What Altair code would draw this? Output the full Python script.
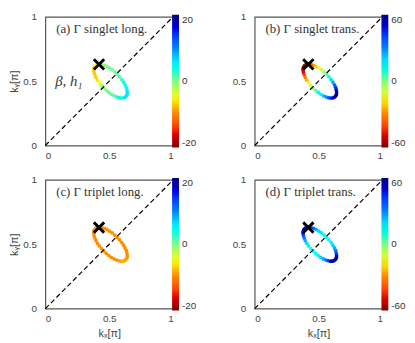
import altair as alt
import pandas as pd

# Fermi-surface-like contour points (k_x, k_y in units of pi)
kx = [0.630, 0.637, 0.641, 0.641, 0.638, 0.633, 0.624, 0.612, 0.598, 0.581,
      0.563, 0.544, 0.523, 0.503, 0.482, 0.463, 0.444, 0.427, 0.412, 0.400,
      0.390, 0.383, 0.379, 0.379, 0.382, 0.388, 0.396, 0.408, 0.422, 0.439,
      0.457, 0.477, 0.497, 0.517, 0.538, 0.558, 0.576, 0.593, 0.608, 0.620]
ky = [0.380, 0.390, 0.402, 0.417, 0.434, 0.453, 0.472, 0.493, 0.513, 0.534,
      0.553, 0.571, 0.588, 0.602, 0.614, 0.623, 0.628, 0.631, 0.631, 0.627,
      0.620, 0.610, 0.598, 0.583, 0.566, 0.548, 0.528, 0.507, 0.487, 0.466,
      0.447, 0.429, 0.413, 0.398, 0.386, 0.378, 0.372, 0.369, 0.369, 0.373]

# colour values along the contour for each panel
val_a = [6, 6, 6, 6, 5.5, 5, 4, 3, 2, 1.5,
         1, 1, 0.5, 0.5, 0, 0, -1, -2, -4, -5,
         -5, -6, -6, -7, -7, -7, -7, -6, -5, -2,
         0, 0.5, 1, 1, 1.5, 2, 3, 4, 5, 6]
val_b = [55, 58, 58, 55, 50, 42, 35, 26, 18, 10,
         4, -2, -8, -14, -20, -26, -34, -42, -50, -56,
         -58, -58, -56, -52, -46, -40, -32, -24, -16, -8,
         -2, 4, 10, 16, 22, 28, 35, 42, 48, 52]
val_c = [-8.5, -8.5, -9, -9.5, -9.5, -9.5, -9.5, -9.5, -9.5, -9.5,
         -9.5, -9.5, -9.5, -9.5, -9.5, -9.5, -9.5, -9.5, -9.5, -9.5,
         -9.5, -9.5, -9.5, -9.5, -9.5, -9.5, -9.5, -9.5, -9.5, -9.5,
         -9.5, -9.5, -9.5, -9.5, -9.5, -9.5, -9, -8.5, -8, -8.5]
val_d = [58, 57, 54, 48, 40, 32, 25, 20, 17, 15,
         15, 15, 17, 20, 25, 32, 40, 48, 54, 57,
         58, 57, 54, 48, 40, 32, 25, 20, 17, 15,
         15, 15, 17, 20, 25, 32, 40, 48, 54, 57]

marker_kx = [0.42]
marker_ky = [0.63]
diag_k = [0, 1]
tick_vals = [0, 0.5, 1]

labels = ["(a)  \u0393 singlet long.", "(b)  \u0393 singlet trans.",
          "(c)  \u0393 triplet long.", "(d)  \u0393 triplet trans."]
cbar_max = [20, 60, 20, 60]
jet = ["#800000", "#ff0000", "#ff8000", "#ffff00", "#80ff80",
       "#00ffff", "#0080ff", "#0000ff", "#000080"]

W, H = 130, 131


def panel(i, vals, ytitle, xtitle):
    m = cbar_max[i]
    stops = [-m + 2 * m * j / 8 for j in range(9)]
    df = pd.DataFrame({"kx": kx, "ky": ky, "v": vals})

    xa = dict(values=tick_vals, labelExpr="'' + datum.value", ticks=False,
              domain=False, grid=False, labelPadding=5, labelFontSize=10,
              labelColor="#444", labelFont="Liberation Sans",
              titleFont="Liberation Sans", titleFontSize=11,
              titleFontWeight="normal", titleColor="#444", titlePadding=4)
    ya = dict(xa)
    ya["labelPadding"] = 9
    ya["titlePadding"] = 3
    xa["title"] = "k\u2093[\u03c0]" if xtitle else None
    ya["title"] = "k\u1d67[\u03c0]" if ytitle else None

    X = alt.X("kx:Q", scale=alt.Scale(domain=[0, 1], nice=False, zero=False),
              axis=alt.Axis(**xa))
    Y = alt.Y("ky:Q", scale=alt.Scale(domain=[0, 1], nice=False, zero=False),
              axis=alt.Axis(**ya))

    pts = alt.Chart(df).mark_circle(size=14, opacity=1).encode(
        x=X, y=Y,
        color=alt.Color(
            "v:Q",
            scale=alt.Scale(domain=stops, range=jet),
            legend=alt.Legend(
                orient="none", legendX=W - 1, legendY=-2, direction="vertical",
                gradientLength=H + 4, gradientThickness=7, gradientStrokeWidth=0,
                values=[-m, 0, m], title=None, labelFontSize=10,
                labelFont="Liberation Sans", labelColor="#333", labelOffset=3,
                labelBaseline="middle", padding=0,
                labelExpr="datum.value < 0 ? '-' + abs(datum.value) : '' + datum.value",
            ),
        ),
    )
    diag = alt.Chart(pd.DataFrame({"kx": diag_k, "ky": diag_k})).mark_line(
        color="black", strokeDash=[5, 3], strokeWidth=1.2
    ).encode(x=X, y=Y)
    mark = alt.Chart(pd.DataFrame({"kx": marker_kx, "ky": marker_ky})).mark_point(
        shape="M-1,-1L1,1M-1,1L1,-1", size=110, strokeWidth=3, color="black",
        filled=False, opacity=1
    ).encode(x=X, y=Y)
    txt = alt.Chart(pd.DataFrame({"t": [labels[i]]})).mark_text(
        align="left", baseline="alphabetic", font="Liberation Serif",
        fontSize=13, color="#333"
    ).encode(x=alt.value(11), y=alt.value(16), text="t:N")
    layers = [pts, diag, mark, txt]
    if i == 0:
        beta = alt.Chart(pd.DataFrame({"t": ["\u03b2, h\u2081"]})).mark_text(
            align="left", baseline="middle", font="Liberation Serif",
            fontSize=15, fontStyle="italic", color="#333"
        ).encode(x=alt.value(10), y=alt.value(65), text="t:N")
        layers.append(beta)
    return alt.layer(*layers).properties(width=W, height=H)


pa = panel(0, val_a, True, False)
pb = panel(1, val_b, False, False)
pc = panel(2, val_c, True, True)
pd_ = panel(3, val_d, False, True)

chart = alt.concat(
    pa, pb, pc, pd_, columns=2,
    spacing=alt.RowColnumber(row=35, column=83),
).properties(
    bounds="flush",
    padding={"left": 0, "top": 0, "right": 0, "bottom": 0},
).resolve_scale(color="independent").configure_view(
    stroke="#555", strokeWidth=1.2
)

chart.save("out.html", embed_options={"renderer": "svg", "actions": False})
